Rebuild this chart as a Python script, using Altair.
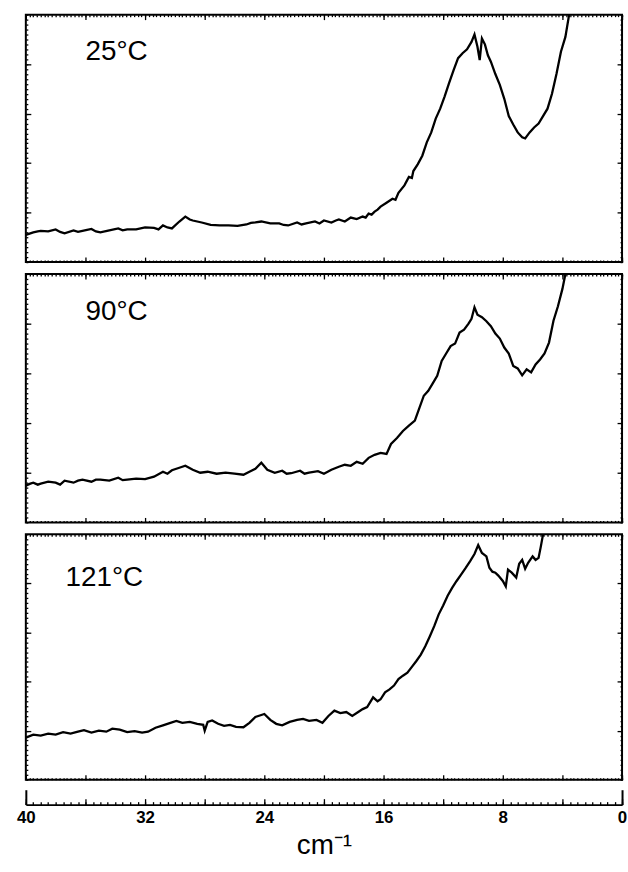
import altair as alt
import pandas as pd

# ---------------- data ----------------
x25 = [40, 39.7, 39.5, 39.2, 39, 38.5, 38, 37.7, 37.4, 36.8, 36.5, 36.2, 35.6, 35.3, 35, 34.4, 33.8,
       33.5, 33.2, 32.6, 32, 31.4, 31.1, 30.8, 30.5, 30.2, 29.7, 29.3, 29.0, 28.8, 28.2, 27.6, 27,
       26.4, 25.8, 25.2, 24.9, 24.6, 24.2, 23.6, 23, 22.7, 22.4, 21.8, 21.5, 21.2, 20.6, 20.3, 20,
       19.5, 19.2, 19, 18.6, 18.2, 17.8, 17.4, 17.2, 17, 16.8, 16.6, 16.4, 16.2, 15.8, 15.4, 15.2,
       15, 14.6, 14.3, 14.1, 14, 13.7, 13.4, 13.1, 12.8, 12.5, 12.2, 11.9, 11.6, 11.3, 11, 10.7,
       10.4, 10.1, 9.9, 9.7, 9.55, 9.4, 9.2, 9.0, 8.8, 8.5, 8.2, 7.9, 7.6, 7.3, 7.0, 6.7, 6.5, 6.2,
       5.9, 5.6, 5.3, 5.0, 4.7, 4.4, 4.1, 3.8, 3.55, 3.3]
y25 = [0.55, 0.58, 0.60, 0.62, 0.63, 0.62, 0.66, 0.61, 0.58, 0.64, 0.61, 0.63, 0.67, 0.62, 0.60,
       0.64, 0.68, 0.64, 0.66, 0.66, 0.70, 0.69, 0.66, 0.74, 0.70, 0.68, 0.82, 0.92, 0.86, 0.84,
       0.80, 0.75, 0.74, 0.74, 0.73, 0.76, 0.79, 0.80, 0.82, 0.78, 0.78, 0.75, 0.74, 0.80, 0.76,
       0.78, 0.82, 0.78, 0.84, 0.80, 0.84, 0.86, 0.82, 0.90, 0.87, 0.92, 0.90, 0.98, 0.96, 1.02,
       1.06, 1.12, 1.20, 1.28, 1.26, 1.40, 1.55, 1.72, 1.70, 1.84, 1.98, 2.15, 2.42, 2.62, 2.90,
       3.10, 3.35, 3.62, 3.88, 4.12, 4.22, 4.30, 4.45, 4.60, 4.35, 4.08, 4.52, 4.40, 4.18, 4.05,
       3.80, 3.58, 3.30, 2.95, 2.78, 2.62, 2.52, 2.50, 2.62, 2.72, 2.80, 2.95, 3.10, 3.40, 3.80,
       4.25, 4.55, 5.00, 5.50]

x90 = [40, 39.7, 39.5, 39.2, 39, 38.5, 38, 37.7, 37.4, 36.8, 36.5, 36.2, 35.6, 35.3, 35, 34.4, 33.8,
       33.5, 33.2, 32.6, 32, 31.4, 30.8, 30.5, 30.2, 29.7, 29.3, 28.8, 28.3, 27.8, 27.2, 26.6, 26,
       25.4, 25, 24.6, 24.2, 23.8, 23.3, 22.8, 22.5, 22.2, 21.6, 21.3, 21, 20.4, 20, 19.5, 19,
       18.6, 18.2, 17.8, 17.4, 17, 16.6, 16.2, 15.8, 15.5, 15.1, 14.7, 14.3, 13.9, 13.6, 13.3,
       13.0, 12.7, 12.4, 12.1, 11.8, 11.5, 11.2, 10.9, 10.6, 10.3, 10.1, 9.9, 9.7, 9.4, 9.1, 8.8,
       8.5, 8.2, 7.9, 7.6, 7.3, 7.0, 6.7, 6.4, 6.1, 5.8, 5.5, 5.2, 4.9, 4.6, 4.3, 4.0, 3.8, 3.6]
y90 = [0.74, 0.78, 0.80, 0.76, 0.78, 0.82, 0.80, 0.76, 0.84, 0.80, 0.84, 0.86, 0.82, 0.86, 0.86,
       0.84, 0.90, 0.85, 0.86, 0.88, 0.87, 0.92, 1.02, 0.98, 1.05, 1.10, 1.14, 1.06, 1.00, 1.02,
       0.98, 1.00, 0.98, 0.96, 1.02, 1.08, 1.20, 1.06, 1.00, 1.04, 0.98, 0.99, 1.04, 0.98, 1.00,
       1.03, 0.98, 1.06, 1.12, 1.16, 1.14, 1.22, 1.18, 1.30, 1.36, 1.40, 1.38, 1.58, 1.70, 1.84,
       1.95, 2.05, 2.30, 2.55, 2.65, 2.80, 2.95, 3.25, 3.40, 3.55, 3.60, 3.82, 3.88, 4.00, 4.10,
       4.33, 4.18, 4.13, 4.05, 3.95, 3.80, 3.70, 3.52, 3.40, 3.15, 3.10, 2.96, 3.08, 3.02, 3.18,
       3.28, 3.40, 3.62, 4.06, 4.35, 4.70, 5.00, 5.40]

x121 = [40, 39.5, 39, 38.5, 38, 37.5, 37, 36.5, 36.1, 35.6, 35.1, 34.6, 34.2, 33.7, 33.2, 32.7,
        32.2, 31.8, 31.3, 30.8, 30.3, 29.9, 29.5, 29, 28.5, 28.1, 28.0, 27.8, 27.5, 27.1, 26.7,
        26.3, 25.9, 25.4, 25, 24.6, 24.2, 24.0, 23.6, 23.2, 22.8, 22.3, 21.8, 21.4, 21, 20.5, 20.1,
        19.7, 19.3, 18.9, 18.5, 18.1, 17.7, 17.4, 17.1, 16.7, 16.4, 16.2, 15.9, 15.6, 15.3, 15.0,
        14.7, 14.4, 14.1, 13.8, 13.5, 13.2, 12.9, 12.6, 12.3, 12.0, 11.7, 11.4, 11.1, 10.8, 10.5,
        10.2, 9.9, 9.65, 9.4, 9.1, 8.9, 8.7, 8.5, 8.3, 8.0, 7.8, 7.65, 7.4, 7.1, 6.9, 6.7, 6.5,
        6.3, 6.0, 5.8, 5.6, 5.45, 5.3, 5.2]
y121 = [0.86, 0.92, 0.90, 0.94, 0.92, 0.97, 0.94, 0.98, 1.01, 0.96, 1.00, 0.98, 1.04, 1.02, 0.97,
        0.99, 0.96, 0.98, 1.06, 1.11, 1.16, 1.20, 1.16, 1.18, 1.14, 1.12, 1.00, 1.18, 1.21, 1.14,
        1.10, 1.12, 1.08, 1.07, 1.16, 1.28, 1.32, 1.34, 1.22, 1.14, 1.11, 1.18, 1.22, 1.24, 1.20,
        1.22, 1.16, 1.30, 1.41, 1.36, 1.38, 1.30, 1.38, 1.44, 1.48, 1.68, 1.60, 1.64, 1.78, 1.84,
        1.92, 2.05, 2.12, 2.18, 2.30, 2.42, 2.55, 2.72, 2.92, 3.13, 3.37, 3.55, 3.75, 3.91, 4.05,
        4.18, 4.31, 4.45, 4.60, 4.78, 4.62, 4.55, 4.32, 4.24, 4.22, 4.16, 4.05, 3.94, 4.28, 4.22,
        4.12, 4.40, 4.48, 4.30, 4.42, 4.55, 4.48, 4.52, 4.75, 5.00, 5.30]

panel_labels = ["25°C", "90°C", "121°C"]
x_tick_labels = [40, 32, 24, 16, 8, 0]
x_title = "cm⁻¹"

# ---------------- helpers ----------------
X_DOMAIN = [0, 40]
Y_DOMAIN = [0, 5]
x_minor = [i * 0.25 for i in range(161)]
x_major = [i * 4 for i in range(11)]
y_minor = [round(i * 0.1, 2) for i in range(51)]
y_major = [1, 2, 3, 4]

xsc = alt.Scale(domain=X_DOMAIN, reverse=True, nice=False, zero=False)
ysc = alt.Scale(domain=Y_DOMAIN, nice=False, zero=False)


def inner_axis(orient, values, size):
    return alt.Axis(orient=orient, values=values, tickSize=size, offset=-size,
                    domain=False, labels=False, grid=False, title=None,
                    tickColor="black", tickWidth=1.3, minExtent=0, maxExtent=0)


def panel(xs, ys, label, lx, ly, h):
    df = pd.DataFrame({"x": xs, "y": ys})
    base = alt.Chart(df)
    layers = []
    specs = [("bottom", x_minor, 2, "left", y_minor, 2),
             ("bottom", x_major, 5, "left", y_major, 5),
             ("top", x_minor, 2, "right", y_minor, 2),
             ("top", x_major, 5, "right", y_major, 5)]
    for i, (xo, xv, xs_, yo, yv, ys_) in enumerate(specs):
        mk = base.mark_line(color="black", strokeWidth=2.3, clip=True,
                            opacity=1 if i == 0 else 0)
        layers.append(mk.encode(
            x=alt.X("x:Q", scale=xsc, axis=inner_axis(xo, xv, xs_)),
            y=alt.Y("y:Q", scale=ysc, axis=inner_axis(yo, yv, ys_)),
        ))
    txt = alt.Chart(pd.DataFrame({"t": [label]})).mark_text(
        font="Liberation Sans", fontSize=28, align="left", baseline="middle",
        color="black").encode(text="t:N", x=alt.value(lx), y=alt.value(ly))
    layers.append(txt)
    return alt.layer(*layers).resolve_axis(x="independent", y="independent").properties(
        width=600, height=h)


p1 = panel(x25, y25, panel_labels[0], 60, 38, 249)
p2 = panel(x90, y90, panel_labels[1], 60, 38, 250)
p3 = panel(x121, y121, panel_labels[2], 40, 44, 247)

# ---------------- bottom scale strip ----------------
sdf = pd.DataFrame({"x": x_tick_labels, "y": [0.5] * len(x_tick_labels)})
sbase = alt.Chart(sdf)
ysc_s = alt.Scale(domain=[0, 1])
s1 = sbase.mark_point(opacity=0).encode(
    x=alt.X("x:Q", scale=xsc, axis=alt.Axis(
        orient="bottom", values=x_tick_labels, ticks=False, tickSize=0, domain=True,
        domainColor="black", domainWidth=2, grid=False, labelFlush=False,
        labelFont="Liberation Sans", labelFontWeight="bold", labelFontSize=17,
        labelColor="black", labelPadding=5, title=x_title, titleFont="Liberation Sans",
        titleFontWeight="normal", titleFontSize=28, titleColor="black", titlePadding=6,
        minExtent=0)),
    y=alt.Y("y:Q", scale=ysc_s, axis=alt.Axis(orient="left", domain=True, domainColor="black",
                                               domainWidth=2, ticks=False, labels=False,
                                               grid=False, title=None, minExtent=0,
                                               maxExtent=0)),
)
s2 = sbase.mark_point(opacity=0).encode(
    x=alt.X("x:Q", scale=xsc, axis=inner_axis("bottom", [i * 0.5 for i in range(81)], 3)),
    y=alt.Y("y:Q", scale=ysc_s, axis=alt.Axis(orient="right", domain=True, domainColor="black",
                                               domainWidth=2, ticks=False, labels=False,
                                               grid=False, title=None, minExtent=0,
                                               maxExtent=0)),
)
s3 = sbase.mark_point(opacity=0).encode(
    x=alt.X("x:Q", scale=xsc, axis=inner_axis("bottom", x_major, 6)),
)
strip = alt.layer(s1, s2, s3).resolve_axis(x="independent", y="independent").properties(
    width=600, height=15, view=alt.ViewBackground(stroke="transparent"))

inner = alt.vconcat(p1, p2, p3, spacing=12, bounds="flush")
chart = alt.vconcat(inner, strip, spacing=7).properties(
    padding={"left": 15, "top": 10, "right": 0, "bottom": 0},
    background="white",
).configure_view(stroke="black", strokeWidth=2)

chart.save("out.html", embed_options={"renderer": "svg", "actions": False})
